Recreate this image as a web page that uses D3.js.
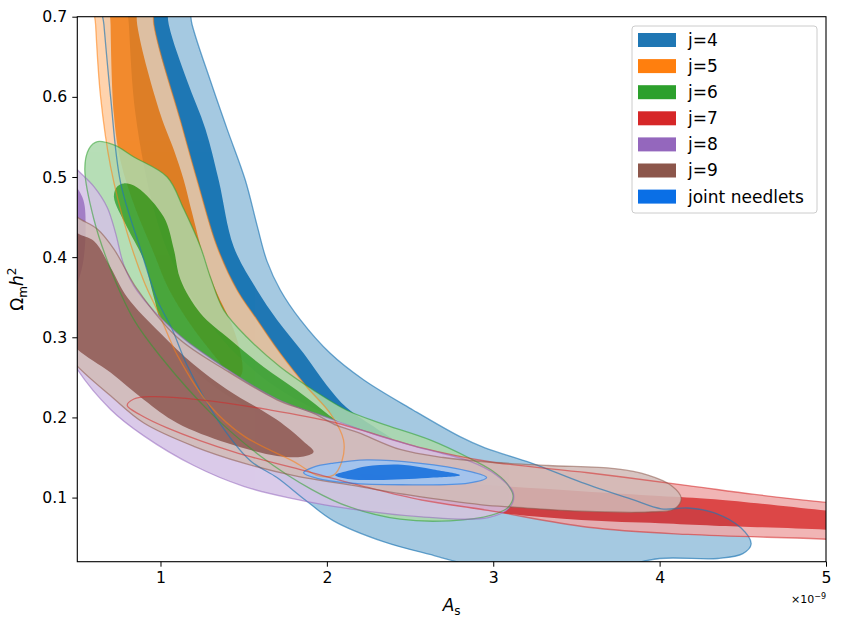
<!DOCTYPE html>
<html>
<head>
<meta charset="utf-8">
<script src="https://cdn.jsdelivr.net/npm/d3@7"></script>
<style>
  body { margin: 0; background: #fff; }
  svg { display: block; font-family: "DejaVu Sans", sans-serif; }
</style>
</head>
<body>
<div id="chart"></div>
<script>
// Contour outlines, as [A_s (x1e-9), Omega_m h^2]
// outer = 2 sigma level, inner = 1 sigma level
const j4Outer = [[0.64,0.74],[0.66,0.69],[0.70,0.60],[0.76,0.493],[0.88,0.41],[0.98,0.347],[1.07,0.31],[1.16,0.265],[1.34,0.198],[1.54,0.146],[1.70,0.125],[1.87,0.097],[2.04,0.071],[2.34,0.045],[2.64,0.028],[2.9,0.015],[3.7,0.012],[4.0,0.024],[4.35,0.024],[4.5,0.03],[4.55,0.042],[4.49,0.062],[4.33,0.081],[4.17,0.087],[4.01,0.086],[3.83,0.098],[3.53,0.119],[3.23,0.143],[2.95,0.162],[2.80,0.176],[2.52,0.209],[2.22,0.247],[2.02,0.28],[1.84,0.322],[1.72,0.359],[1.64,0.395],[1.58,0.44],[1.51,0.496],[1.40,0.56],[1.30,0.62],[1.19,0.69],[1.14,0.74]];
const j4Inner = [[0.80,0.74],[0.81,0.69],[0.85,0.578],[0.96,0.46],[1.08,0.39],[1.25,0.33],[1.45,0.28],[1.7,0.237],[2.0,0.203],[2.25,0.18],[2.4,0.172],[2.3,0.186],[2.12,0.212],[2.0,0.24],[1.86,0.28],[1.70,0.322],[1.58,0.359],[1.44,0.413],[1.35,0.496],[1.27,0.56],[1.16,0.62],[1.05,0.69],[1.02,0.74]];
const j5Outer = [[0.60,0.74],[0.61,0.69],[0.64,0.60],[0.70,0.513],[0.80,0.43],[0.90,0.37],[1.0,0.325],[1.10,0.278],[1.30,0.214],[1.50,0.177],[1.81,0.144],[1.95,0.127],[2.04,0.128],[2.09,0.145],[2.10,0.172],[2.02,0.205],[1.88,0.238],[1.72,0.28],[1.58,0.322],[1.46,0.359],[1.34,0.413],[1.22,0.496],[1.12,0.57],[0.96,0.69],[0.95,0.74]];
const j5Inner = [[0.70,0.74],[0.70,0.69],[0.72,0.578],[0.76,0.52],[0.85,0.46],[0.95,0.41],[1.05,0.36],[1.2,0.31],[1.35,0.27],[1.44,0.245],[1.49,0.255],[1.47,0.29],[1.42,0.32],[1.34,0.355],[1.27,0.393],[1.19,0.455],[1.14,0.496],[1.08,0.534],[1.0,0.578],[0.86,0.69],[0.85,0.74]];
const j6Outer = [[0.545,0.51],[0.57,0.535],[0.62,0.544],[0.72,0.54],[0.84,0.525],[1.04,0.50],[1.14,0.46],[1.24,0.413],[1.30,0.375],[1.38,0.334],[1.52,0.30],[1.72,0.263],[1.92,0.234],[2.12,0.209],[2.32,0.193],[2.62,0.172],[2.85,0.15],[2.99,0.134],[3.08,0.118],[3.12,0.102],[3.09,0.088],[2.99,0.078],[2.74,0.071],[2.44,0.073],[2.14,0.088],[1.91,0.11],[1.60,0.152],[1.30,0.206],[1.0,0.276],[0.84,0.322],[0.70,0.385],[0.60,0.447]];
const j6Inner = [[0.72,0.475],[0.74,0.488],[0.78,0.492],[0.86,0.487],[1.02,0.45],[1.08,0.41],[1.12,0.372],[1.24,0.33],[1.42,0.297],[1.62,0.263],[1.82,0.234],[2.0,0.205],[2.08,0.19],[2.05,0.182],[1.8,0.19],[1.5,0.215],[1.2,0.26],[1.02,0.31],[0.96,0.35],[0.90,0.396],[0.80,0.437]];
const j7Outer = [[0.80,0.215],[0.84,0.223],[0.94,0.226],[1.24,0.222],[1.64,0.21],[2.04,0.194],[2.57,0.162],[2.97,0.145],[3.57,0.131],[4.17,0.115],[4.57,0.104],[5.0,0.094],[5.3,0.088],[5.3,0.044],[5.0,0.048],[4.17,0.054],[3.57,0.063],[2.97,0.084],[2.57,0.097],[2.24,0.113],[1.84,0.135],[1.44,0.157],[1.04,0.187],[0.88,0.203]];
const j7Inner = [[2.2,0.128],[2.6,0.122],[3.0,0.115],[3.53,0.108],[4.0,0.102],[4.33,0.098],[5.0,0.084],[5.3,0.079],[5.3,0.056],[5.0,0.06],[4.33,0.065],[4.0,0.068],[3.53,0.072],[3.0,0.082],[2.6,0.097],[2.3,0.115]];
const j8Outer = [[0.40,0.53],[0.5,0.509],[0.60,0.488],[0.68,0.462],[0.73,0.43],[0.78,0.39],[0.86,0.358],[1.10,0.305],[1.40,0.26],[1.70,0.223],[2.0,0.2],[2.3,0.178],[2.6,0.16],[2.85,0.146],[3.02,0.128],[3.12,0.106],[3.1,0.088],[2.97,0.075],[2.57,0.076],[2.04,0.089],[1.81,0.098],[1.5,0.114],[1.2,0.14],[0.9,0.177],[0.7,0.21],[0.5,0.26],[0.40,0.3]];
const j8Inner = [[0.3,0.49],[0.45,0.495],[0.53,0.475],[0.55,0.44],[0.52,0.38],[0.42,0.34],[0.3,0.36]];
const j9Outer = [[0.40,0.47],[0.5,0.45],[0.62,0.435],[0.72,0.41],[0.86,0.36],[1.10,0.30],[1.40,0.258],[1.70,0.222],[1.92,0.205],[2.06,0.19],[2.19,0.181],[2.44,0.16],[2.7,0.15],[2.93,0.145],[3.33,0.14],[3.73,0.136],[3.93,0.128],[4.07,0.115],[4.13,0.099],[4.09,0.086],[3.93,0.082],[3.53,0.083],[3.13,0.088],[2.93,0.091],[2.5,0.103],[2.19,0.114],[1.81,0.127],[1.50,0.143],[1.20,0.164],[0.90,0.193],[0.70,0.227],[0.5,0.264],[0.40,0.29]];
const j9Inner = [[0.40,0.45],[0.5,0.43],[0.6,0.42],[0.7,0.387],[0.8,0.35],[1.0,0.305],[1.2,0.266],[1.4,0.235],[1.7,0.197],[1.86,0.17],[1.92,0.157],[1.85,0.151],[1.7,0.152],[1.4,0.168],[1.1,0.193],[0.9,0.222],[0.7,0.256],[0.5,0.285],[0.40,0.31]];
const jointOuter = [[1.86,0.131],[1.92,0.138],[2.04,0.143],[2.24,0.147],[2.55,0.143],[2.85,0.133],[2.96,0.125],[2.85,0.118],[2.45,0.116],[2.14,0.118],[1.94,0.124]];
const jointInner = [[2.05,0.128],[2.14,0.134],[2.24,0.139],[2.45,0.141],[2.64,0.135],[2.8,0.128],[2.64,0.125],[2.34,0.122],[2.14,0.123]];

const seriesNames = ["j=4", "j=5", "j=6", "j=7", "j=8", "j=9", "joint needlets"];
const seriesColors = ["#1f77b4", "#ff7f0e", "#2ca02c", "#d62728", "#9467bd", "#8c564b", "#0a6fe6"];
const outerContours = [j4Outer, j5Outer, j6Outer, j7Outer, j8Outer, j9Outer, jointOuter];
const innerContours = [j4Inner, j5Inner, j6Inner, j7Inner, j8Inner, j9Inner, jointInner];

const xDomain = [0.5, 5];
const yDomain = [0.02, 0.7];
const xTicks = [1, 2, 3, 4, 5];
const yTicks = [0.1, 0.2, 0.3, 0.4, 0.5, 0.6, 0.7];

const width = 842, height = 630;
const margin = { top: 16.7, right: 16, bottom: 68.3, left: 77.3 };

const svg = d3.select("#chart")
    .append("svg")
    .attr("width", width)
    .attr("height", height);

const x = d3.scaleLinear().domain(xDomain).range([margin.left, width - margin.right]);
const y = d3.scaleLinear().domain(yDomain).range([height - margin.bottom, margin.top]);

svg.append("clipPath").attr("id", "plot-clip")
    .append("rect")
    .attr("x", x(xDomain[0])).attr("y", y(yDomain[1]))
    .attr("width", x(xDomain[1]) - x(xDomain[0]))
    .attr("height", y(yDomain[0]) - y(yDomain[1]));

const contourLine = d3.line()
    .x(d => x(d[0]))
    .y(d => y(d[1]))
    .curve(d3.curveCatmullRomClosed.alpha(0.5));

const plot = svg.append("g").attr("clip-path", "url(#plot-clip)");
const fills = plot.append("g");
const edges = plot.append("g"); // contour lines sit above every filled region

// getdist style: pale outer band, solid inner region, edge line on the outer level
seriesNames.forEach((name, i) => {
    const color = seriesColors[i];
    const pale = d3.interpolateRgb(color, "#ffffff")(0.6);
    const alpha = i === 0 ? 1 : 0.85;

    const g = fills.append("g").attr("opacity", alpha);
    g.append("path")
        .datum(outerContours[i])
        .attr("d", contourLine)
        .attr("fill", pale);
    g.append("path")
        .datum(innerContours[i])
        .attr("d", contourLine)
        .attr("fill", color);

    edges.append("path")
        .datum(outerContours[i])
        .attr("d", contourLine)
        .attr("fill", "none")
        .attr("stroke", color)
        .attr("stroke-width", 1.3)
        .attr("stroke-opacity", 0.65 * alpha);
});

// Axes
const xAxis = svg.append("g")
    .attr("transform", `translate(0,${y(yDomain[0])})`)
    .call(d3.axisBottom(x).tickValues(xTicks).tickFormat(d3.format("d")).tickSize(5).tickSizeOuter(0).tickPadding(5));
const yAxis = svg.append("g")
    .attr("transform", `translate(${x(xDomain[0])},0)`)
    .call(d3.axisLeft(y).tickValues(yTicks).tickFormat(d3.format(".1f")).tickSize(5).tickSizeOuter(0).tickPadding(5));

[xAxis, yAxis].forEach(ax => {
    ax.select(".domain").remove();
    ax.selectAll("line").attr("stroke", "#000").attr("stroke-width", 1);
    ax.selectAll("text")
        .style("font-size", "15.7px")
        .style("font-family", "DejaVu Sans")
        .attr("fill", "#000");
});

// Spines
svg.append("rect")
    .attr("x", x(xDomain[0])).attr("y", y(yDomain[1]))
    .attr("width", x(xDomain[1]) - x(xDomain[0]))
    .attr("height", y(yDomain[0]) - y(yDomain[1]))
    .attr("fill", "none")
    .attr("stroke", "#000")
    .attr("stroke-width", 1.1);

// Axis labels
const xLabel = svg.append("text")
    .attr("x", (x(xDomain[0]) + x(xDomain[1])) / 2)
    .attr("y", 611)
    .attr("text-anchor", "middle")
    .style("font-size", "17px");
xLabel.append("tspan").style("font-style", "italic").text("A");
xLabel.append("tspan").attr("dy", 3.5).style("font-size", "12px").text("s");

const yLabel = svg.append("text")
    .attr("transform", `translate(23,${(y(yDomain[0]) + y(yDomain[1])) / 2}) rotate(-90)`)
    .attr("text-anchor", "middle")
    .style("font-size", "17px");
yLabel.append("tspan").text("Ω");
yLabel.append("tspan").attr("dy", 3.5).style("font-size", "12px").text("m");
yLabel.append("tspan").attr("dy", -3.5).style("font-style", "italic").text("h");
yLabel.append("tspan").attr("dy", -7).style("font-size", "12px").text("2");

// Offset text
const offset = svg.append("text")
    .attr("x", x(xDomain[1]))
    .attr("y", 603)
    .attr("text-anchor", "end")
    .style("font-size", "11px");
offset.append("tspan").text("×10");
offset.append("tspan").attr("dy", -4).style("font-size", "8px").text("−9");

// Legend
const legend = svg.append("g").attr("transform", "translate(632,26)");
legend.append("rect")
    .attr("width", 185).attr("height", 187)
    .attr("rx", 3)
    .attr("fill", "#fff").attr("fill-opacity", 0.8)
    .attr("stroke", "#cccccc").attr("stroke-width", 1);

seriesNames.forEach((name, i) => {
    const row = legend.append("g").attr("transform", `translate(0,${14 + i * 26.1})`);
    row.append("rect")
        .attr("x", 6).attr("y", -7)
        .attr("width", 38).attr("height", 14)
        .attr("fill", seriesColors[i]);
    row.append("text")
        .attr("x", 56).attr("dy", "0.35em")
        .style("font-size", "17px")
        .text(name);
});
</script>
</body>
</html>
